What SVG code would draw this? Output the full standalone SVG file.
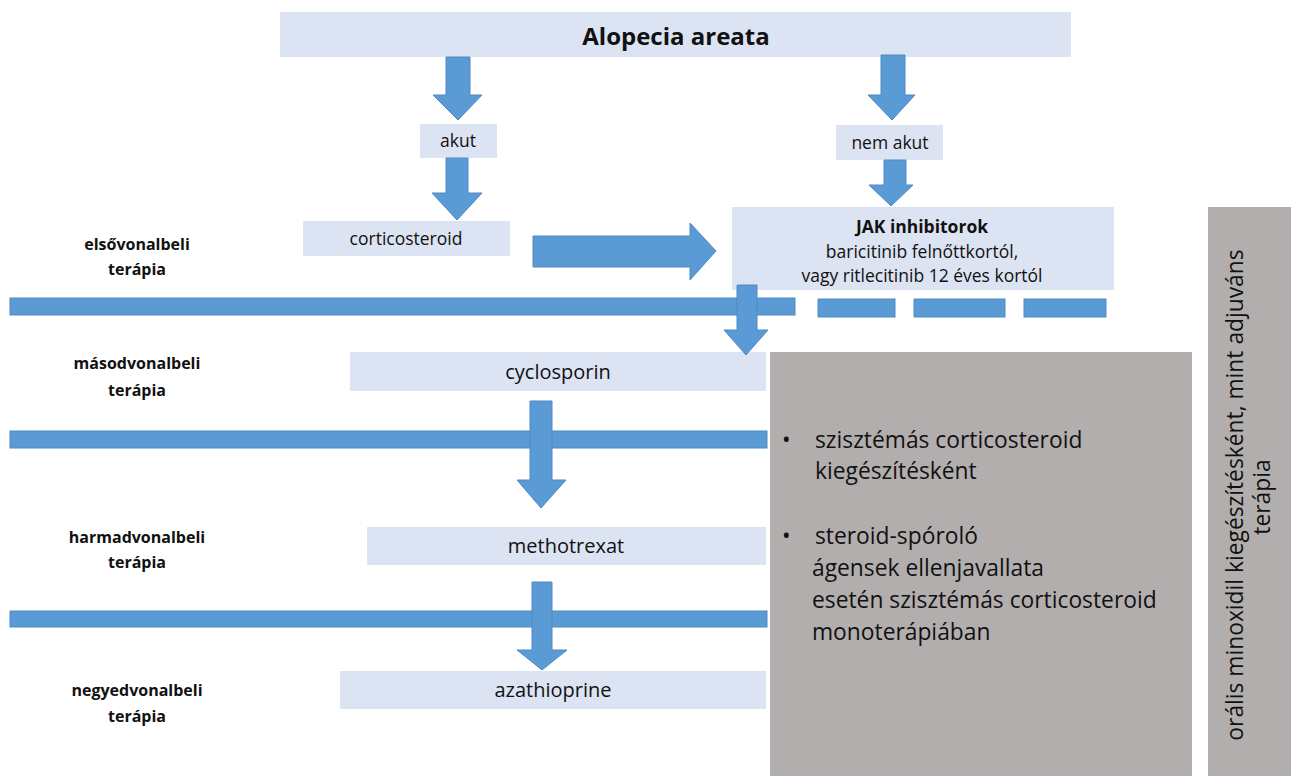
<svg xmlns="http://www.w3.org/2000/svg" width="1291" height="776" viewBox="0 0 1291 776">
<style>
.box{fill:#dce3f2}
.gray{fill:#b3aeae}
.arr{fill:#5b9bd5;stroke:#4f8ac4;stroke-width:1}
.t{font-family:"Open Sans","Liberation Sans",sans-serif;fill:#111;text-anchor:middle}
.lbl{font-family:"Open Sans","Liberation Sans",sans-serif;font-weight:bold;font-size:16px;fill:#111;text-anchor:middle}
.g{font-family:"Open Sans","Liberation Sans",sans-serif;font-size:22.8px;fill:#111}
</style>
<rect width="1291" height="776" fill="#ffffff"/>
<g id="labels">
<text class="lbl" x="137" y="250">elsővonalbeli</text>
<text class="lbl" x="137" y="275">terápia</text>
<text class="lbl" x="137" y="369">másodvonalbeli</text>
<text class="lbl" x="137" y="396">terápia</text>
<text class="lbl" x="137" y="543">harmadvonalbeli</text>
<text class="lbl" x="137" y="568">terápia</text>
<text class="lbl" x="137" y="696">negyedvonalbeli</text>
<text class="lbl" x="137" y="722">terápia</text>
</g>
<g id="separators">
<rect class="arr" x="10" y="298" width="785" height="17"/>
<rect class="arr" x="818" y="299" width="77" height="18"/>
<rect class="arr" x="914" y="299" width="91" height="18"/>
<rect class="arr" x="1024" y="299" width="82" height="18"/>
<rect class="arr" x="10" y="431" width="757" height="17"/>
<rect class="arr" x="10" y="611" width="757" height="16"/>
</g>
<g id="node-title">
<rect class="box" x="280" y="12" width="791" height="45"/>
<text class="t" x="676" y="45" font-size="24" font-weight="bold">Alopecia areata</text>
</g>
<g id="node-akut">
<rect class="box" x="420" y="124" width="77" height="34"/>
<text class="t" x="458" y="147" font-size="17.5">akut</text>
</g>
<g id="node-nemakut">
<rect class="box" x="836" y="125" width="107" height="35"/>
<text class="t" x="890" y="149" font-size="17.5">nem akut</text>
</g>
<g id="node-corticosteroid">
<rect class="box" x="303" y="221" width="207" height="35"/>
<text class="t" x="406" y="245" font-size="17.5">corticosteroid</text>
</g>
<g id="node-jak">
<rect class="box" x="732" y="207" width="382" height="83"/>
<text class="t" x="922" y="233" font-size="17.5" font-weight="bold">JAK inhibitorok</text>
<text class="t" x="922" y="258" font-size="17.5">baricitinib felnőttkortól,</text>
<text class="t" x="922" y="282" font-size="17.5">vagy ritlecitinib 12 éves kortól</text>
</g>
<g id="node-cyclosporin">
<rect class="box" x="350" y="352" width="416" height="39"/>
<text class="t" x="558" y="379" font-size="20">cyclosporin</text>
</g>
<g id="node-methotrexat">
<rect class="box" x="367" y="527" width="399" height="38"/>
<text class="t" x="566" y="553" font-size="20">methotrexat</text>
</g>
<g id="node-azathioprine">
<rect class="box" x="340" y="671" width="426" height="38"/>
<text class="t" x="553" y="697" font-size="20">azathioprine</text>
</g>
<g id="node-systemic">
<rect class="gray" x="770" y="352" width="422" height="424"/>
<text class="g" x="782" y="448" font-size="18">•</text>
<text class="g" x="815" y="448">szisztémás corticosteroid</text>
<text class="g" x="815" y="479">kiegészítésként</text>
<text class="g" x="782" y="544" font-size="18">•</text>
<text class="g" x="815" y="544">steroid-spóroló</text>
<text class="g" x="812" y="576">ágensek ellenjavallata</text>
<text class="g" x="812" y="608">esetén szisztémás corticosteroid</text>
<text class="g" x="812" y="640">monoterápiában</text>
</g>
<g id="node-minoxidil">
<rect class="gray" x="1208" y="207" width="83" height="569"/>
<text class="g" text-anchor="middle" transform="translate(1243,495) rotate(-90)">orális minoxidil kiegészítésként, mint adjuváns</text>
<text class="g" text-anchor="middle" transform="translate(1270,497) rotate(-90)">terápia</text>
</g>
<g id="connectors">
<polygon class="arr" points="446,57 470,57 470,95 482,95 458,120 433,95 446,95"/>
<polygon class="arr" points="446,158 468,158 468,193 482,193 457,220 432,193 446,193"/>
<polygon class="arr" points="881,55 905,55 905,95 915,95 892,120 868,95 881,95"/>
<polygon class="arr" points="884,160 906,160 906,185 913,185 891,206 869,185 884,185"/>
<polygon class="arr" points="533,236 690,236 690,223 716,251 690,280 690,267 533,267"/>
<polygon class="arr" points="737,285 757,285 757,330 768,330 746,355 724,330 737,330"/>
<polygon class="arr" points="530,401 552,401 552,480 566,480 541,508 517,480 530,480"/>
<polygon class="arr" points="532,582 552,582 552,650 567,650 542,670 517,650 532,650"/>
</g>
</svg>
